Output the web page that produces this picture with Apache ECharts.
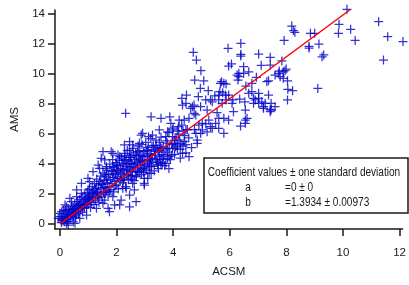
<!DOCTYPE html>
<html>
<head>
<meta charset="utf-8">
<script src="https://cdn.jsdelivr.net/npm/echarts@6/dist/echarts.min.js"></script>
<style>
  html, body { margin: 0; padding: 0; background: #fff; }
  #chart { width: 409px; height: 285px; }
</style>
</head>
<body>
<div id="chart"></div>
<script>
  // ACSM vs AMS
  const sparsePoints = [
    [10.14, 14.31], [11.26, 13.49], [9.86, 13.31], [8.19, 13.2], [8.3, 12.78], [8.25, 12.9],
    [8.85, 12.71], [9.0, 12.71], [10.27, 12.98], [9.84, 12.71], [11.58, 12.49], [12.12, 12.16],
    [10.43, 12.24], [7.92, 12.24], [9.15, 12.0], [8.8, 11.73], [8.8, 11.85], [9.32, 11.27],
    [9.26, 11.15], [11.43, 10.93], [7.84, 10.87], [7.43, 11.11], [7.43, 10.6], [7.99, 10.33],
    [7.95, 10.22], [7.89, 10.15], [7.75, 10.2], [7.6, 9.93], [7.78, 9.82], [7.89, 9.71],
    [8.04, 9.55], [8.05, 8.98], [8.22, 8.89], [9.11, 9.04], [8.04, 8.27], [7.46, 8.04],
    [7.46, 7.6], [7.37, 9.55], [7.72, 10.05]
  ];

  const midPoints = [
    [6.39, 12.04], [5.94, 11.71], [6.39, 11.31], [6.39, 11.2], [4.71, 11.45], [4.82, 10.93],
    [7.02, 11.33], [5.96, 10.53], [6.06, 10.67], [7.11, 10.58], [6.49, 10.49], [4.98, 10.22],
    [6.67, 10.15], [6.32, 10.05], [6.29, 9.6], [4.76, 9.6], [5.08, 9.55], [5.71, 9.49],
    [5.87, 9.33], [6.57, 9.2], [6.94, 9.78], [7.31, 9.49], [4.96, 9.05], [5.24, 8.89],
    [4.31, 8.38], [4.47, 8.6], [4.89, 8.49], [5.15, 8.27], [5.47, 8.55], [5.65, 8.82],
    [5.75, 8.75], [5.87, 8.27], [4.45, 8.05], [4.68, 7.82], [4.97, 7.82], [5.32, 8.27],
    [5.61, 8.27], [5.96, 8.6], [6.35, 8.33], [6.11, 8.27], [6.78, 8.82], [6.9, 8.27],
    [7.02, 8.05], [7.19, 7.82], [6.53, 8.15], [6.55, 7.6], [6.84, 8.05], [7.43, 7.65],
    [6.13, 7.49], [3.22, 7.15], [3.57, 7.05], [3.88, 7.15], [4.56, 7.05], [4.74, 7.38],
    [4.62, 7.71], [5.2, 7.6], [5.55, 7.42], [5.61, 7.05], [5.79, 7.05], [4.91, 6.6],
    [5.15, 6.67], [5.32, 6.49], [5.5, 6.71], [4.21, 6.93], [4.19, 6.49], [3.98, 6.27],
    [3.8, 6.15], [6.38, 6.53], [6.55, 6.93], [5.96, 6.93], [4.97, 6.05], [5.2, 6.15],
    [5.79, 6.05], [2.92, 6.05], [3.27, 5.93], [3.51, 6.27], [3.74, 5.82],
    [4.33, 7.93], [4.8, 7.27], [5.03, 6.71], [5.26, 6.93], [5.38, 6.38], [5.61, 6.38],
    [6.55, 6.71], [6.61, 7.05], [7.13, 8.15], [7.37, 8.6], [7.02, 8.71], [6.84, 8.38],
    [6.08, 8.05], [5.61, 8.6], [5.73, 8.05], [5.38, 8.15], [4.39, 6.93], [4.45, 6.27],
    [5.03, 6.27], [5.85, 8.6], [5.79, 9.38], [5.67, 9.38], [6.67, 8.71], [6.78, 9.38],
    [6.49, 10.05], [6.26, 9.93], [6.32, 9.82], [7.02, 8.38], [7.25, 8.05], [7.6, 7.82],
    [7.19, 7.71], [7.43, 7.49]
  ];

  const lowPoints = [
    [2.32, 7.38], [4.74, 7.93], [3.92, 6.71], [2.87, 5.93], [3.13, 5.82], [3.98, 5.82],
    [2.46, 5.49], [2.57, 5.27], [2.81, 5.38], [1.81, 4.82], [2.05, 4.6], [2.28, 4.27],
    [1.87, 3.82], [1.58, 4.27], [1.46, 4.38], [3.1, 4.49], [3.39, 4.27], [3.74, 4.05],
    [3.86, 4.49], [4.39, 5.49], [4.09, 5.15], [4.33, 4.71], [4.56, 4.49], [4.8, 6.05],
    [4.85, 5.6], [4.21, 5.6], [2.98, 2.71], [3.57, 3.93], [3.8, 4.38], [3.86, 5.05],
    [4.04, 5.38], [4.85, 5.38], [2.98, 3.05], [3.22, 3.38], [3.16, 3.82], [3.45, 4.15],
    [3.62, 4.05], [3.51, 4.49], [3.68, 4.6], [3.98, 5.05], [4.15, 5.27], [4.27, 5.38],
    [3.33, 4.93], [2.92, 4.27], [2.87, 3.6], [1.75, 0.82], [2.11, 1.27], [2.46, 1.15],
    [2.69, 1.49], [2.22, 2.38], [2.57, 2.71], [2.63, 2.27], [1.52, 4.82], [1.87, 4.71],
    [1.17, 3.49], [1.4, 3.71], [0.76, 2.05], [0.99, 2.27], [2.28, 5.27], [2.46, 4.93],
    [2.34, 4.27], [2.51, 4.05], [1.99, 3.93], [1.64, 3.71], [1.05, 2.82], [0.59, 1.82],
    [0.41, 1.49], [0.23, 1.15], [0.12, 0.93], [0.0, 0.71], [-0.06, 0.38], [0.06, 0.27],
    [2.69, 3.15], [2.51, 3.49], [1.87, 1.82], [1.52, 1.38], [1.29, 1.05], [0.94, 0.6],
    [0.7, 0.38], [0.47, 0.15], [0.23, 0.05], [2.11, 4.49], [2.28, 4.71], [2.51, 4.6],
    [2.75, 4.82], [2.92, 4.49], [3.22, 4.6], [1.35, 3.93], [1.64, 3.82], [1.58, 3.27],
    [0.99, 3.05], [0.76, 2.71], [0.59, 2.27], [0.35, 1.71], [0.18, 1.27], [0.06, 0.82],
    [0.0, 0.49], [2.46, 1.93], [2.34, 2.38], [2.98, 2.6], [3.1, 3.05], [3.22, 3.93],
    [3.16, 4.27], [2.16, 1.6], [1.93, 1.27], [1.7, 1.05], [0.53, 0.05], [0.29, -0.07]
  ];

  const densePoints = [
    [0.05, 0.1], [0.08, 0.35], [0.1, 0.22], [0.12, 0.5], [0.15, 0.15], [0.17, 0.68], [0.2, 0.33],
    [0.21, 0.9], [0.24, 0.45], [0.26, 0.62], [0.28, 0.2], [0.3, 1.0], [0.31, 0.52], [0.33, 0.78],
    [0.36, 0.35], [0.38, 0.95], [0.4, 0.62], [0.42, 1.2], [0.44, 0.8], [0.46, 0.5], [0.48, 1.05],
    [0.5, 0.72], [0.52, 1.35], [0.54, 0.95], [0.56, 0.6], [0.58, 1.15], [0.6, 0.85], [0.62, 1.5],
    [0.64, 1.02], [0.66, 0.7], [0.68, 1.28], [0.7, 1.65], [0.72, 0.95], [0.74, 1.4], [0.76, 1.12],
    [0.78, 1.8], [0.8, 0.8], [0.82, 1.25], [0.84, 1.55], [0.86, 1.05], [0.88, 1.95], [0.9, 1.38],
    [0.92, 1.7], [0.94, 1.15], [0.96, 2.1], [0.98, 1.5], [1.0, 1.3], [1.02, 1.85], [1.04, 2.35],
    [1.06, 1.6], [1.08, 1.1], [1.1, 2.0], [1.12, 1.45], [1.14, 2.5], [1.16, 1.75], [1.18, 2.2],
    [1.2, 1.3], [1.22, 2.7], [1.24, 1.95], [1.26, 1.6], [1.28, 2.4], [1.3, 3.0], [1.32, 1.85],
    [1.34, 2.15], [1.36, 2.6], [1.38, 1.45], [1.4, 2.85], [1.42, 2.0], [1.44, 3.2], [1.46, 2.35],
    [1.48, 1.8], [1.5, 2.65], [1.52, 3.4], [1.54, 2.1], [1.56, 2.9], [1.58, 1.6], [1.6, 2.45],
    [1.62, 3.15], [1.64, 2.2], [1.66, 3.6], [1.68, 2.75], [1.7, 1.95], [1.72, 3.3], [1.74, 2.5],
    [1.76, 4.0], [1.78, 2.95], [1.8, 2.3], [1.82, 3.55], [1.84, 2.7], [1.86, 4.3], [1.88, 3.1],
    [1.9, 2.15], [1.92, 3.8], [1.94, 2.85], [1.96, 3.35], [1.98, 4.1], [2.0, 2.6], [2.02, 3.2],
    [2.04, 3.9], [2.06, 2.35], [2.08, 3.55], [2.1, 4.25], [2.12, 2.9], [2.14, 3.7], [2.16, 3.0],
    [2.18, 4.4], [2.2, 3.35], [2.22, 2.75], [2.24, 4.05], [2.26, 3.6], [2.28, 3.1], [2.3, 4.55],
    [2.32, 2.5], [2.34, 3.85], [2.36, 3.3], [2.38, 4.9], [2.4, 3.55], [2.42, 2.95], [2.44, 4.2],
    [2.46, 3.75], [2.48, 3.2], [2.5, 4.45], [2.52, 3.0], [2.54, 4.0], [2.56, 3.5], [2.58, 5.05],
    [2.6, 3.85], [2.62, 2.9], [2.64, 4.3], [2.66, 3.6], [2.68, 4.75], [2.7, 3.2], [2.72, 4.1],
    [2.74, 3.75], [2.76, 5.2], [2.78, 4.4], [2.8, 3.45], [2.82, 4.9], [2.84, 3.9], [2.86, 4.6],
    [2.88, 3.3], [2.9, 5.3], [2.92, 4.15], [2.94, 3.7], [2.96, 4.85], [2.98, 3.95], [3.0, 4.55],
    [3.03, 5.45], [3.06, 3.6], [3.09, 4.2], [3.12, 5.1], [3.15, 3.4], [3.18, 4.7], [3.21, 5.7],
    [3.24, 3.85], [3.27, 4.4], [3.3, 5.25], [3.33, 3.55], [3.36, 4.85], [3.39, 5.6], [3.42, 4.1],
    [3.45, 5.0], [3.48, 3.7], [3.51, 5.45], [3.54, 4.3], [3.57, 5.8], [3.6, 4.65], [3.65, 5.15],
    [3.7, 3.9], [3.75, 5.55], [3.8, 4.8], [3.85, 6.1], [3.9, 4.3], [3.95, 5.3], [4.0, 6.4],
    [4.05, 4.65], [4.1, 5.75], [4.15, 5.0], [4.2, 6.0], [4.25, 4.4], [4.3, 6.6], [4.35, 5.2],
    [4.4, 5.9], [4.45, 4.75], [4.5, 6.3]
  ];

  const coreFillPoints = [
    [1.05, 1.75], [1.15, 2.05], [1.25, 2.3], [1.35, 1.75], [1.45, 2.7], [1.55, 2.45], [1.65, 2.95],
    [1.75, 2.2], [1.85, 3.35], [1.95, 2.55], [2.05, 3.05], [2.15, 3.45], [2.25, 2.95], [2.35, 3.65],
    [2.45, 4.45], [2.55, 3.25], [2.65, 4.0], [2.75, 3.5], [2.85, 4.25], [2.95, 3.45], [3.05, 4.9],
    [3.15, 4.05], [3.25, 5.15], [3.35, 4.6], [3.45, 3.95], [3.55, 5.1], [3.65, 4.35], [3.75, 4.95],
    [3.85, 3.7], [3.95, 4.6], [4.05, 5.6], [4.15, 6.2], [4.25, 5.0], [4.35, 6.2], [4.45, 5.3],
    [4.55, 5.75], [4.65, 5.1], [4.75, 6.3], [2.2, 3.95], [2.6, 4.6], [3.0, 3.75], [3.4, 5.25],
    [3.8, 5.4], [1.6, 2.1], [2.0, 3.6], [2.4, 4.05], [2.8, 4.15], [3.2, 4.35], [3.6, 5.05],
    [1.3, 2.1], [1.0, 1.65], [0.85, 1.3], [0.65, 1.25], [0.45, 0.95], [0.25, 0.3], [0.55, 0.45],
    [1.9, 3.5], [2.7, 4.55], [3.1, 4.95], [3.5, 4.8]
  ];

  const xTicks = [0, 2, 4, 6, 8, 10, 12];
  const yTicks = [0, 2, 4, 6, 8, 10, 12, 14];

  // fit: AMS = a + b * ACSM
  const fitA = 0;
  const fitB = 1.3934;
  const fitXRange = [0, 10.25];
  const fitLines = [
    'Coefficient values \u00b1 one standard deviation',
    'a', '=0 \u00b1 0',
    'b', '=1.3934 \u00b1 0.00973',
  ];

  const allPoints = densePoints.concat(coreFillPoints, lowPoints, midPoints, sparsePoints);
  const fitData = fitXRange.map((x) => [x, fitA + fitB * x]);

  const FONT = "'Liberation Sans', Arial, sans-serif";
  const INK = '#1a1a1a';
  const PLUS = 'path://M4.3,0H5.7V4.3H10V5.7H5.7V10H4.3V5.7H0V4.3H4.3Z';
  const BOX_FONT = '13px ' + FONT;
  const SQUEEZE = 0.775; // reference text is a narrow face

  const chart = echarts.init(document.getElementById('chart'), null, { renderer: 'canvas' });

  const axisCommon = {
    type: 'value',
    nameLocation: 'middle',
    nameTextStyle: { color: INK, fontSize: 11.5, fontFamily: FONT },
    splitLine: { show: false },
    axisLine: { show: true, onZero: false, lineStyle: { color: INK, width: 1.5 } },
    axisTick: { show: true, inside: false, length: 7, lineStyle: { color: INK, width: 1.5 } },
  };

  const boxText = (text, x, y, align) => ({
    type: 'text',
    x: x,
    y: y,
    scaleX: SQUEEZE,
    style: { text: text, font: BOX_FONT, fill: INK, align: align, verticalAlign: 'middle' },
  });

  chart.setOption({
    animation: false,
    backgroundColor: '#fff',
    grid: { left: 55, right: 4, top: 10, bottom: 56, containLabel: false },
    xAxis: Object.assign({}, axisCommon, {
      name: 'ACSM',
      nameGap: 37,
      min: -0.175,
      max: 12.105,
      axisTick: Object.assign({}, axisCommon.axisTick, { customValues: xTicks }),
      axisLabel: { customValues: xTicks, color: INK, fontSize: 11.5, fontFamily: FONT, margin: 18 },
    }),
    yAxis: Object.assign({}, axisCommon, {
      name: 'AMS',
      nameGap: 31,
      min: -0.333,
      max: 14.267,
      axisTick: Object.assign({}, axisCommon.axisTick, { customValues: yTicks }),
      axisLabel: { customValues: yTicks, color: INK, fontSize: 11.5, fontFamily: FONT, margin: 10 },
    }),
    series: [
      {
        type: 'scatter',
        data: allPoints,
        symbol: PLUS,
        symbolSize: 9,
        itemStyle: { color: '#0000c8' },
        silent: true,
        clip: false,
      },
      {
        type: 'line',
        data: fitData,
        showSymbol: false,
        lineStyle: { color: '#ff0000', width: 1.5 },
        silent: true,
        z: 5,
      },
    ],
    graphic: [
      {
        type: 'group',
        x: 204,
        y: 158,
        z: 10,
        children: [
          {
            type: 'rect',
            shape: { x: 0, y: 0, width: 204, height: 55 },
            style: { fill: '#fff', stroke: INK, lineWidth: 1.5 },
          },
          boxText(fitLines[0], 100, 14, 'center'),
          boxText(fitLines[1], 44, 29.5, 'center'),
          boxText(fitLines[2], 81, 29.5, 'left'),
          boxText(fitLines[3], 44, 44.5, 'center'),
          boxText(fitLines[4], 81, 44.5, 'left'),
        ],
      },
    ],
  });
</script>
</body>
</html>
